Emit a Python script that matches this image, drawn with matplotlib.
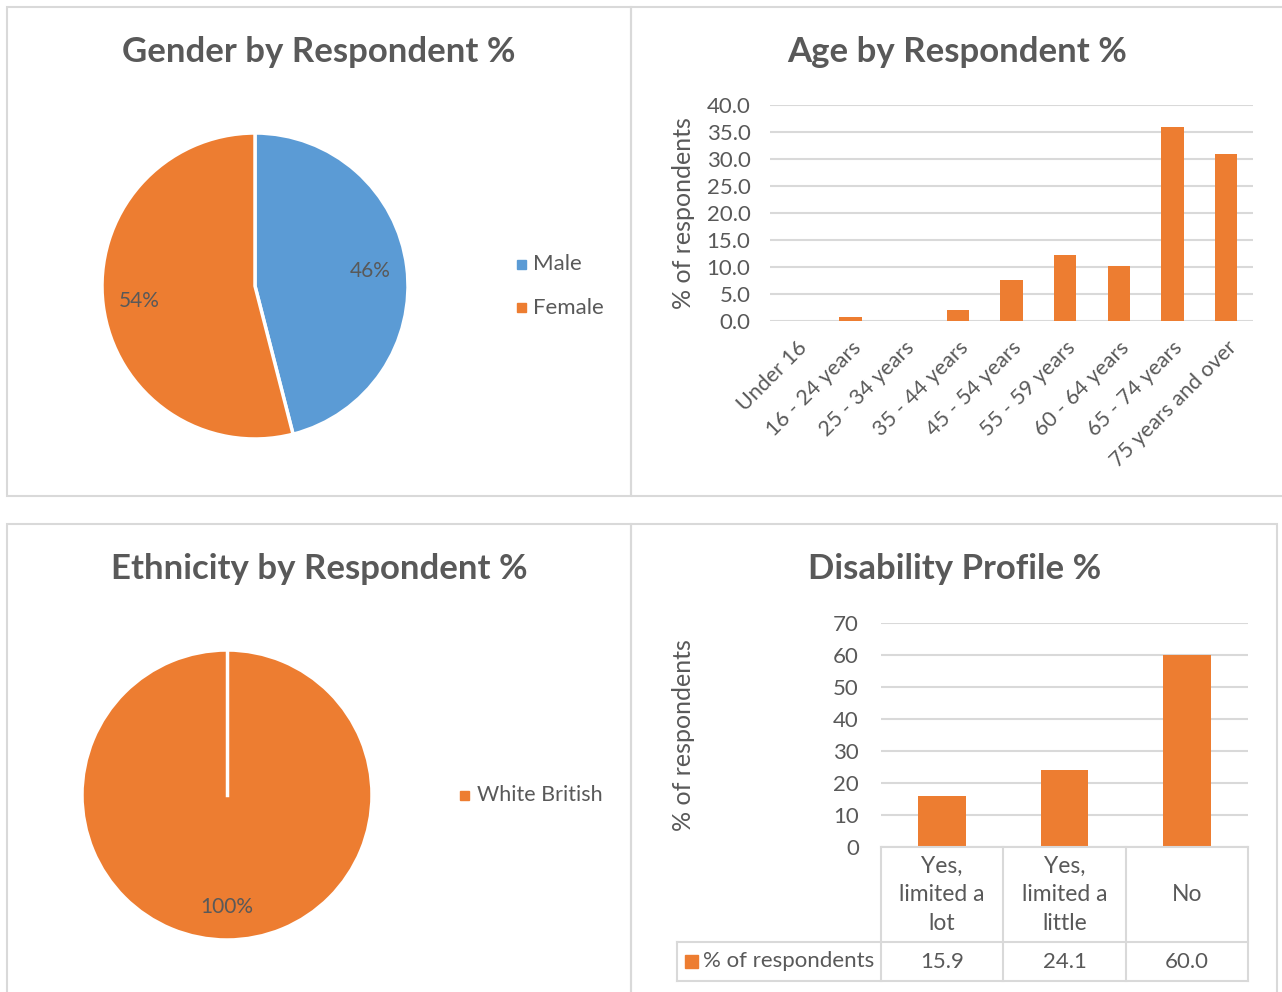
import numpy as np
import matplotlib
matplotlib.use('Agg')
import matplotlib.pyplot as plt
from matplotlib.patches import Rectangle

plt.rcParams['font.family'] = ['Lato', 'DejaVu Sans']

# data
gender_labels = ['Male', 'Female']
gender_values = [46, 54]

age_labels = ['Under 16', '16 - 24 years', '25 - 34 years', '35 - 44 years', '45 - 54 years',
              '55 - 59 years', '60 - 64 years', '65 - 74 years', '75 years and over']
age_values = [0.0, 0.7, 0.0, 2.1, 7.6, 12.3, 10.2, 35.9, 31.0]

ethnicity_labels = ['White British']
ethnicity_values = [100]

disability_labels = ['Yes,\nlimited a\nlot', 'Yes,\nlimited a\nlittle', 'No']
disability_values = [15.9, 24.1, 60.0]
series_name = '% of respondents'

ORANGE = '#ED7D31'
BLUE = '#5B9BD5'
TEXT = '#595959'
GRID = '#D9D9D9'

W, H = 1282, 992
fig = plt.figure(figsize=(W / 100, H / 100), dpi=100)


def box(x0, y0, x1, y1):
    '''pixel box (top-left origin) -> figure fraction rect'''
    return [x0 / W, 1 - y1 / H, (x1 - x0) / W, (y1 - y0) / H]


def fx(x):
    return x / W


def fy(y):
    return 1 - y / H


# panel borders
for (x0, y0, x1, y1) in [(7, 7, 631, 496), (631, 7, 1290, 496), (7, 524, 631, 1000), (631, 524, 1277, 1000)]:
    fig.patches.append(Rectangle((x0 / W, 1 - y1 / H), (x1 - x0) / W, (y1 - y0) / H,
                                 transform=fig.transFigure, fill=False, edgecolor=GRID, lw=1.5))

title_kw = dict(fontsize=25, fontweight='bold', color=TEXT, ha='center', va='center')
fig.text(fx(319), fy(52), 'Gender by Respondent %', **title_kw)
fig.text(fx(957), fy(52), 'Age by Respondent %', **title_kw)
fig.text(fx(319), fy(569), 'Ethnicity by Respondent %', **title_kw)
fig.text(fx(955), fy(569), 'Disability Profile %', **title_kw)


### gender pie
cx, cy, r = 255, 286, 153
ax1 = fig.add_axes(box(cx - r, cy - r, cx + r, cy + r))
wedges, texts, autotexts = ax1.pie(gender_values, colors=[BLUE, ORANGE], startangle=90, counterclock=False,
                                   autopct='%1.0f%%', pctdistance=0.76,
                                   wedgeprops=dict(edgecolor='white', linewidth=2.5),
                                   textprops=dict(color=TEXT, fontsize=15))
ax1.set_xlim(-1, 1)
ax1.set_ylim(-1, 1)
ax1.set_aspect('equal')
ax1.axis('off')

for i, lab in enumerate(gender_labels):
    yy = 264 + i * 44
    fig.patches.append(Rectangle((fx(517), fy(yy + 4.5)), 9 / W, 9 / H, transform=fig.transFigure,
                                 color=[BLUE, ORANGE][i]))
    fig.text(fx(533), fy(yy), lab, fontsize=16, color=TEXT, ha='left', va='center')


### ethnicity pie
cx, cy, r = 227, 795, 145
ax3 = fig.add_axes(box(cx - r, cy - r, cx + r, cy + r))
ax3.pie(ethnicity_values, colors=[ORANGE], startangle=90, counterclock=False,
        autopct='%1.0f%%', pctdistance=0.77,
        wedgeprops=dict(edgecolor='white', linewidth=2.5),
        textprops=dict(color=TEXT, fontsize=15))
ax3.plot([0, 0], [0, 1], color='white', lw=2.5)
ax3.set_xlim(-1, 1)
ax3.set_ylim(-1, 1)
ax3.set_aspect('equal')
ax3.axis('off')

fig.patches.append(Rectangle((fx(460), fy(799.5)), 9 / W, 9 / H, transform=fig.transFigure, color=ORANGE))
fig.text(fx(477), fy(795), ethnicity_labels[0], fontsize=15.5, color=TEXT, ha='left', va='center')


### age bar chart
ax2 = fig.add_axes(box(770, 105, 1253, 321))
x = np.arange(len(age_labels))
ax2.bar(x, age_values, 0.41, color=ORANGE, zorder=3)
ax2.set_xlim(-0.5, len(age_labels) - 0.5)
ax2.set_ylim(0, 40)
ax2.set_yticks(np.arange(0, 41, 5))
ax2.set_yticklabels(['%.1f' % v for v in np.arange(0, 41, 5)])
ax2.set_xticks(x)
ax2.set_xticklabels(age_labels, rotation=45, ha='right', rotation_mode='anchor')
ax2.grid(axis='y', color=GRID, lw=1.5, zorder=0)
ax2.tick_params(axis='both', length=0, labelsize=16, labelcolor=TEXT)
ax2.tick_params(axis='y', pad=14)
ax2.tick_params(axis='x', pad=12, labelsize=15.5)
for s in ax2.spines.values():
    s.set_visible(False)
fig.text(fx(683), fy(213), series_name, rotation=90, fontsize=18, color=TEXT, ha='center', va='center')


### disability bar chart with data table
ax4 = fig.add_axes(box(881, 623, 1248, 847))
x = np.arange(len(disability_labels))
ax4.bar(x, disability_values, 0.39, color=ORANGE, zorder=3)
ax4.set_xlim(-0.5, len(disability_labels) - 0.5)
ax4.set_ylim(0, 70)
ax4.set_yticks(np.arange(0, 71, 10))
ax4.set_xticks([])
ax4.grid(axis='y', color=GRID, lw=1.5, zorder=0)
ax4.tick_params(axis='both', length=0, labelsize=16, labelcolor=TEXT)
ax4.tick_params(axis='y', pad=16)
for s in ax4.spines.values():
    s.set_visible(False)
fig.text(fx(683), fy(735), series_name, rotation=90, fontsize=18, color=TEXT, ha='center', va='center')

# table axes, same x scale as the bars
n = len(disability_labels)
col_px = (1248 - 881) / n
extra = (881 - 677) / col_px
axt = fig.add_axes(box(677, 847, 1248, 981))
axt.set_xlim(-0.5 - extra, n - 0.5)
axt.set_ylim(0, 1)
axt.axis('off')
row_split = (981 - 942) / (981 - 847)
lk = dict(color=GRID, lw=1.5, clip_on=False)
# header row lines
axt.plot([-0.5, n - 0.5], [1, 1], **lk)
axt.plot([-0.5 - extra, n - 0.5], [row_split, row_split], **lk)
axt.plot([-0.5 - extra, n - 0.5], [0, 0], **lk)
for i in range(n + 1):
    axt.plot([i - 0.5, i - 0.5], [0, 1], **lk)
axt.plot([-0.5 - extra, -0.5 - extra], [0, row_split], **lk)
for i in range(n):
    axt.text(i, (1 + row_split) / 2, disability_labels[i], ha='center', va='center',
             fontsize=16.5, color=TEXT, linespacing=1.45)
    axt.text(i, row_split / 2, '%.1f' % disability_values[i], ha='center', va='center',
             fontsize=16, color=TEXT)
fig.patches.append(Rectangle((fx(685), fy(967.5)), 13 / W, 13 / H, transform=fig.transFigure, color=ORANGE))
fig.text(fx(703), fy(961), series_name, fontsize=16, color=TEXT, ha='left', va='center')

fig.savefig('out.png', dpi=100)
